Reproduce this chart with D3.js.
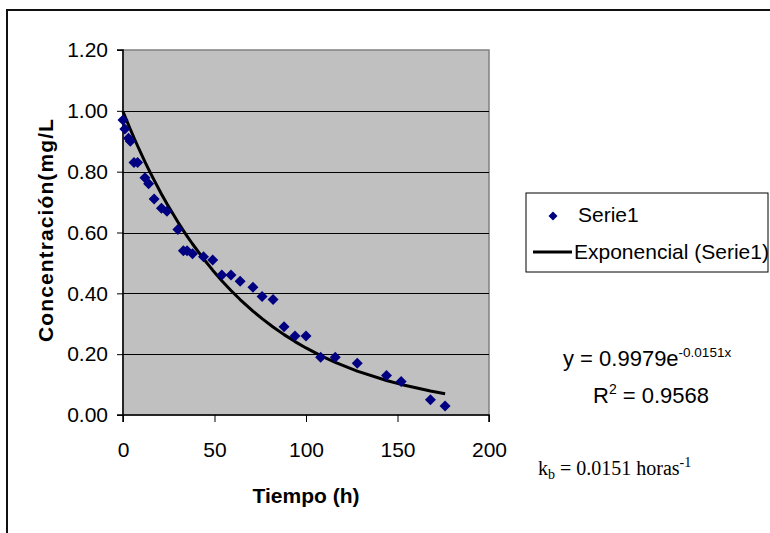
<!DOCTYPE html>
<html><head><meta charset="utf-8">
<script src="https://cdn.jsdelivr.net/npm/d3@7"></script>
<style>body{margin:0;background:#fff}svg{display:block}text{font-family:"Liberation Sans",Arial,sans-serif;fill:#000}</style>
</head><body>
<svg id="c" width="770" height="533"></svg>
<script>
// Data
const tiempo = [0,1,3,4,6,8,12,14,17,21,24,30,33,35,38,44,49,54,59,64,71,76,82,88,94,100,108,116,128,144,152,168,176];
const concentracion = [0.97,0.94,0.91,0.90,0.83,0.83,0.78,0.76,0.71,0.68,0.67,0.61,0.54,0.54,0.53,0.52,0.51,0.46,0.46,0.44,0.42,0.39,0.38,0.29,0.26,0.26,0.19,0.19,0.17,0.13,0.11,0.05,0.03];
const xTicks = [0,50,100,150,200];
const yTicks = [0,0.2,0.4,0.6,0.8,1.0,1.2];
// Exponential trendline coefficients (from the chart's equation)
const fitA = 0.9979, fitB = -0.0151;

const svg = d3.select("#c");
const L=123, R=489, T=50, B=415;
const x = d3.scaleLinear().domain([0,200]).range([L,R]);
const y = d3.scaleLinear().domain([0,1.2]).range([B,T]);

// outer border
svg.append("rect").attr("x",7).attr("y",10).attr("width",800).attr("height",600)
  .attr("fill","none").attr("stroke","#111").attr("stroke-width",2);

// plot area
svg.append("rect").attr("x",L).attr("y",T).attr("width",R-L).attr("height",B-T)
  .attr("fill","#c0c0c0").attr("stroke","#808080").attr("stroke-width",1.5);

// gridlines
svg.append("g").selectAll("line").data(yTicks.filter(v=>v>0 && v<1.2)).join("line")
  .attr("x1",L).attr("x2",R).attr("y1",d=>Math.round(y(d))+0.5).attr("y2",d=>Math.round(y(d))+0.5)
  .attr("stroke","#000").attr("stroke-width",1);

// axes
const yAxis = d3.axisLeft(y).tickValues(yTicks).tickFormat(d3.format(".2f")).tickSize(6).tickPadding(9);
const gy = svg.append("g").attr("transform",`translate(${L},0)`).call(yAxis);
const xAxis = d3.axisBottom(x).tickValues(xTicks).tickFormat(d3.format("d")).tickSize(7).tickPadding(20);
const gx = svg.append("g").attr("transform",`translate(0,${B})`).call(xAxis);
[gx,gy].forEach(g=>{
  g.select(".domain").attr("stroke","#000").attr("stroke-width",1.5);
  g.selectAll(".tick line").attr("stroke","#000");
  g.selectAll(".tick text").attr("font-size",21).attr("font-family","'Liberation Sans',Arial,sans-serif").attr("fill","#000");
});
gy.select(".domain").attr("d",`M-6,${T}H0V${B}H-6`);
gx.select(".domain").attr("d",`M${L},7V0H${R}V7`);

// trendline
const line = d3.line().x(d=>x(d)).y(d=>y(fitA*Math.exp(fitB*d)));
svg.append("path").datum(tiempo).attr("d",line).attr("fill","none")
  .attr("stroke","#000").attr("stroke-width",3).attr("stroke-linejoin","round");

// markers
const dia = r=>`M0,${-r}L${r},0L0,${r}L${-r},0Z`;
svg.append("g").selectAll("path").data(tiempo.map((t,i)=>[t,concentracion[i]])).join("path")
  .attr("d",dia(5.5)).attr("transform",d=>`translate(${x(d[0])},${y(d[1])})`).attr("fill","#000080");

// axis titles
svg.append("text").attr("x",(L+R)/2).attr("y",503).attr("text-anchor","middle")
  .attr("font-size",21).attr("font-weight","bold").text("Tiempo (h)");
svg.append("text").attr("transform","translate(53,230) rotate(-90)").attr("text-anchor","middle")
  .attr("font-size",21).attr("font-weight","bold").attr("letter-spacing",1.1).text("Concentración(mg/L");

// legend
const lg = svg.append("g");
lg.append("rect").attr("x",526).attr("y",193).attr("width",242).attr("height",79)
  .attr("fill","#fff").attr("stroke","#000").attr("stroke-width",1);
lg.append("path").attr("d",dia(4.5)).attr("transform","translate(553,216)").attr("fill","#000080");
lg.append("text").attr("x",578).attr("y",222).attr("font-size",21).text("Serie1");
lg.append("line").attr("x1",533).attr("x2",572).attr("y1",252).attr("y2",252).attr("stroke","#000").attr("stroke-width",3);
lg.append("text").attr("x",574).attr("y",259).attr("font-size",21).text("Exponencial (Serie1)");

// equation
const eq = svg.append("text").attr("x",563).attr("y",366).attr("font-size",22);
eq.append("tspan").text("y = 0.9979e");
eq.append("tspan").attr("dy",-9).attr("font-size",13.5).text("-0.0151x");
const r2 = svg.append("text").attr("x",593).attr("y",403).attr("font-size",22);
r2.append("tspan").text("R");
r2.append("tspan").attr("dy",-9).attr("font-size",14).text("2");
r2.append("tspan").attr("dy",9).text(" = 0.9568");

// k_b
const kb = svg.append("text").attr("x",538).attr("y",475).attr("font-size",20)
  .style("font-family","'Liberation Serif','Times New Roman',serif");
kb.append("tspan").text("k");
kb.append("tspan").attr("dy",4).attr("font-size",14).text("b");
kb.append("tspan").attr("dy",-4).text(" = 0.0151 horas");
kb.append("tspan").attr("dy",-8).attr("font-size",14).text("-1");
</script>
</body></html>
